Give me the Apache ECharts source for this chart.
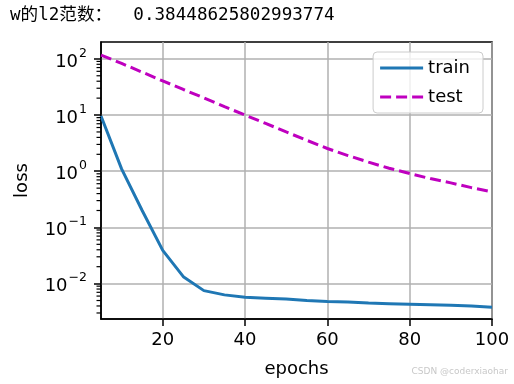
<!DOCTYPE html>
<html>
<head>
<meta charset="utf-8">
<script src="https://cdn.jsdelivr.net/npm/echarts@6/dist/echarts.min.js"></script>
<style>html,body{margin:0;padding:0;background:#fff}#c{width:514px;height:384px}</style>
</head>
<body>
<div id="c"></div>
<script>
var titleText = 'w的l2范数：  0.38448625802993774';
var epochs = [5,10,15,20,25,30,35,40,45,50,55,60,65,70,75,80,85,90,95,100];
var trainLoss = [9.6,1.1,0.2,0.039,0.0133,0.0075,0.0063,0.0057,0.0055,0.0053,0.0050,0.0048,0.0047,0.0045,0.0044,0.0043,0.0042,0.0041,0.0040,0.0038];
var testLoss = [117,83,58,40.5,28.5,20.2,14.1,10.0,7.1,5.0,3.55,2.54,1.9,1.45,1.13,0.91,0.74,0.62,0.51,0.43];
var xTicks = [20,40,60,80,100];
var yTicks = [0.01,0.1,1,10,100];
var LOGMIN = -2.63, LOGMAX = 2.3;
var yMinor = [];
[-3,-2,-1,0,1,2].forEach(function(d){for(var k=2;k<=9;k++){var v=k*Math.pow(10,d); var l=Math.log10(v); if(l>LOGMIN&&l<LOGMAX) yMinor.push(v);}});

var FONT = "'DejaVu Sans', sans-serif";
var YMIN = Math.pow(10, LOGMIN), YMAX = Math.pow(10, LOGMAX);
var chart = echarts.init(document.getElementById('c'), null, {renderer:'canvas'});
function supFmt(v){
  var e = Math.round(Math.log10(v));
  var s = e < 0 ? '\u2212' + (-e) : '' + e;
  return '{b|10}{s|' + s + '}';
}
var minorTickData = yMinor.map(function(v){ return [5, v]; });
var option = {
  animation: false,
  backgroundColor: '#fff',
  title: {
    text: titleText, left: 5, top: 2,
    textStyle: {fontFamily: "'DejaVu Sans Mono', 'Noto Sans CJK SC', monospace", fontSize: 17.6, fontWeight: 'normal', color: '#000'}
  },
  graphic: [{
    type: 'text', right: 6, bottom: 8,
    style: {text: 'CSDN @coderxiaohar', fontSize: 9, fontFamily: FONT, fill: '#c8c8c8'}
  }],
  grid: {left: 101, right: 22, top: 42, bottom: 65, show: true, borderColor: '#000', borderWidth: 1.5, backgroundColor: 'transparent'},
  legend: {
    orient: 'vertical', right: 31, top: 52,
    itemWidth: 43, itemHeight: 3, itemGap: 9, itemTextGap: 15,
    padding: [6, 13, 6, 7],
    backgroundColor: 'rgba(255,255,255,0.8)', borderColor: '#cccccc', borderWidth: 1, borderRadius: 4,
    textStyle: {fontFamily: FONT, fontSize: 18, color: '#000', lineHeight: 20},
    data: [
      {name: 'train', icon: 'path://M0,0h43v3h-43z'},
      {name: 'test', icon: 'path://M0,0h11v3h-11z M16,0h11v3h-11z M32,0h11v3h-11z'}
    ]
  },
  xAxis: {
    type: 'value', min: 5, max: 100,
    name: 'epochs', nameLocation: 'middle', nameGap: 41,
    nameTextStyle: {fontFamily: FONT, fontSize: 18, color: '#000'},
    axisLine: {show: true, onZero: false, lineStyle: {color: '#000', width: 1.5}},
    axisTick: {show: true, inside: false, length: 7, lineStyle: {color: '#000', width: 1.5}, customValues: xTicks},
    axisLabel: {fontFamily: FONT, fontSize: 18, color: '#000', margin: 12, customValues: xTicks},
    splitLine: {show: true, lineStyle: {color: '#b0b0b0', width: 1.5}}
  },
  yAxis: {
    type: 'log', logBase: 10, min: YMIN, max: YMAX,
    name: 'loss', nameLocation: 'middle', nameGap: 70,
    nameTextStyle: {fontFamily: FONT, fontSize: 18, color: '#000'},
    axisLine: {show: true, lineStyle: {color: '#000', width: 1.5}},
    axisTick: {show: true, inside: false, length: 7, lineStyle: {color: '#000', width: 1.5}, customValues: yTicks},
    axisLabel: {
      margin: 14, customValues: yTicks,
      formatter: supFmt,
      rich: {
        b: {fontFamily: FONT, fontSize: 18, color: '#000', lineHeight: 24, verticalAlign: 'bottom'},
        s: {fontFamily: FONT, fontSize: 12.5, color: '#000', lineHeight: 24, verticalAlign: 'top', padding: [0,0,0,1]}
      }
    },
    splitLine: {show: true, lineStyle: {color: '#b0b0b0', width: 1.5}}
  },
  series: [{
    name: 'train', type: 'line', symbol: 'none', showSymbol: false,
    data: epochs.map(function(e, i){ return [e, trainLoss[i]]; }),
    lineStyle: {color: '#1f77b4', width: 3},
    itemStyle: {color: '#1f77b4'}
  }, {
    name: 'test', type: 'line', symbol: 'none', showSymbol: false,
    data: epochs.map(function(e, i){ return [e, testLoss[i]]; }),
    lineStyle: {color: '#bf00bf', width: 3, type: [11, 5]},
    itemStyle: {color: '#bf00bf'}
  }, {
    name: 'minorTicks', type: 'custom', silent: true, clip: false, z: 10,
    encode: {x: 0, y: 1},
    data: minorTickData,
    renderItem: function(params, api){
      var p = api.coord([api.value(0), api.value(1)]);
      return {type: 'line', shape: {x1: p[0] - 4.5, y1: p[1], x2: p[0], y2: p[1]},
              style: {stroke: '#000', lineWidth: 1.2}};
    }
  }]
};
chart.setOption(option);
</script>
</body>
</html>
